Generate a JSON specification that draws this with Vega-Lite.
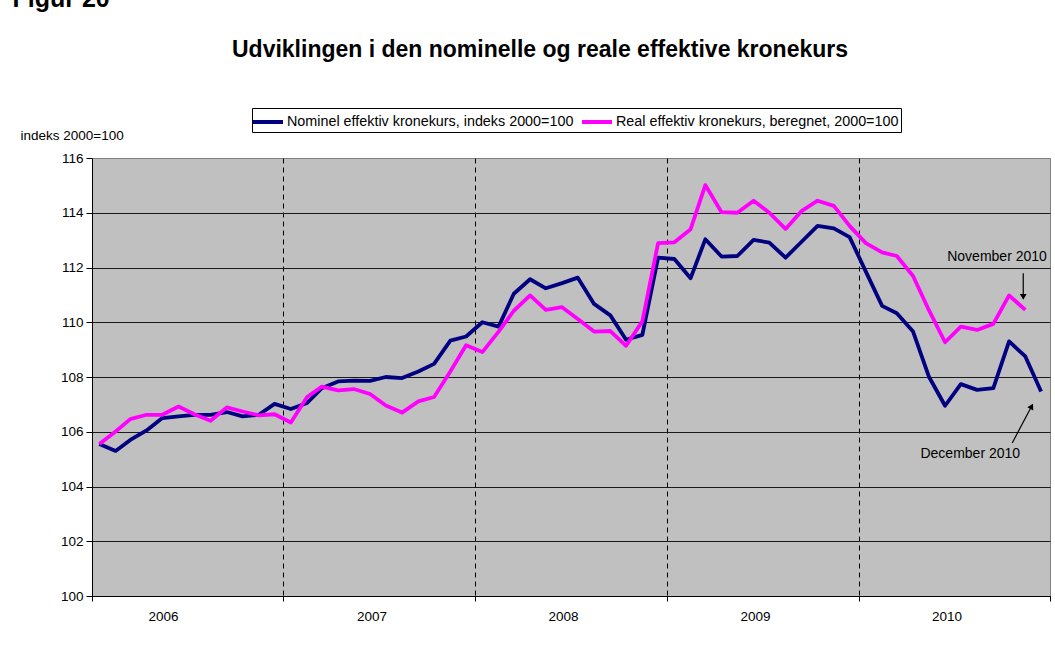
{
  "$schema": "https://vega.github.io/schema/vega-lite/v6.json",
  "width": 958,
  "height": 438,
  "autosize": "none",
  "padding": {"left": 92, "top": 158, "right": 5, "bottom": 52},
  "background": "white",
  "config": {
    "font": "Liberation Sans",
    "view": {"fill": "#C0C0C0", "stroke": "#808080", "strokeWidth": 1}
  },
  "title": {
    "text": "Udviklingen i den nominelle og reale effektive kronekurs",
    "font": "Liberation Sans",
    "fontSize": 23,
    "fontWeight": "bold",
    "color": "black",
    "anchor": "middle",
    "baseline": "alphabetic",
    "dx": -31,
    "offset": -94
  },
  "layer": [
    {
      "data": {"values": [
        {"date": "2006-01-15", "series": "Nominel effektiv kronekurs, indeks 2000=100", "value": 105.55},
        {"date": "2006-02-15", "series": "Nominel effektiv kronekurs, indeks 2000=100", "value": 105.30},
        {"date": "2006-03-15", "series": "Nominel effektiv kronekurs, indeks 2000=100", "value": 105.70},
        {"date": "2006-04-15", "series": "Nominel effektiv kronekurs, indeks 2000=100", "value": 106.05},
        {"date": "2006-05-15", "series": "Nominel effektiv kronekurs, indeks 2000=100", "value": 106.50},
        {"date": "2006-06-15", "series": "Nominel effektiv kronekurs, indeks 2000=100", "value": 106.56},
        {"date": "2006-07-15", "series": "Nominel effektiv kronekurs, indeks 2000=100", "value": 106.62},
        {"date": "2006-08-15", "series": "Nominel effektiv kronekurs, indeks 2000=100", "value": 106.62},
        {"date": "2006-09-15", "series": "Nominel effektiv kronekurs, indeks 2000=100", "value": 106.72},
        {"date": "2006-10-15", "series": "Nominel effektiv kronekurs, indeks 2000=100", "value": 106.56},
        {"date": "2006-11-15", "series": "Nominel effektiv kronekurs, indeks 2000=100", "value": 106.62},
        {"date": "2006-12-15", "series": "Nominel effektiv kronekurs, indeks 2000=100", "value": 107.02},
        {"date": "2007-01-15", "series": "Nominel effektiv kronekurs, indeks 2000=100", "value": 106.83},
        {"date": "2007-02-15", "series": "Nominel effektiv kronekurs, indeks 2000=100", "value": 107.05},
        {"date": "2007-03-15", "series": "Nominel effektiv kronekurs, indeks 2000=100", "value": 107.59},
        {"date": "2007-04-15", "series": "Nominel effektiv kronekurs, indeks 2000=100", "value": 107.84},
        {"date": "2007-05-15", "series": "Nominel effektiv kronekurs, indeks 2000=100", "value": 107.87},
        {"date": "2007-06-15", "series": "Nominel effektiv kronekurs, indeks 2000=100", "value": 107.86},
        {"date": "2007-07-15", "series": "Nominel effektiv kronekurs, indeks 2000=100", "value": 108.00},
        {"date": "2007-08-15", "series": "Nominel effektiv kronekurs, indeks 2000=100", "value": 107.96},
        {"date": "2007-09-15", "series": "Nominel effektiv kronekurs, indeks 2000=100", "value": 108.20},
        {"date": "2007-10-15", "series": "Nominel effektiv kronekurs, indeks 2000=100", "value": 108.48},
        {"date": "2007-11-15", "series": "Nominel effektiv kronekurs, indeks 2000=100", "value": 109.33},
        {"date": "2007-12-15", "series": "Nominel effektiv kronekurs, indeks 2000=100", "value": 109.48},
        {"date": "2008-01-15", "series": "Nominel effektiv kronekurs, indeks 2000=100", "value": 110.00},
        {"date": "2008-02-15", "series": "Nominel effektiv kronekurs, indeks 2000=100", "value": 109.84},
        {"date": "2008-03-15", "series": "Nominel effektiv kronekurs, indeks 2000=100", "value": 111.04},
        {"date": "2008-04-15", "series": "Nominel effektiv kronekurs, indeks 2000=100", "value": 111.57},
        {"date": "2008-05-15", "series": "Nominel effektiv kronekurs, indeks 2000=100", "value": 111.24},
        {"date": "2008-06-15", "series": "Nominel effektiv kronekurs, indeks 2000=100", "value": 111.43},
        {"date": "2008-07-15", "series": "Nominel effektiv kronekurs, indeks 2000=100", "value": 111.63},
        {"date": "2008-08-15", "series": "Nominel effektiv kronekurs, indeks 2000=100", "value": 110.67},
        {"date": "2008-09-15", "series": "Nominel effektiv kronekurs, indeks 2000=100", "value": 110.25},
        {"date": "2008-10-15", "series": "Nominel effektiv kronekurs, indeks 2000=100", "value": 109.36},
        {"date": "2008-11-15", "series": "Nominel effektiv kronekurs, indeks 2000=100", "value": 109.54},
        {"date": "2008-12-15", "series": "Nominel effektiv kronekurs, indeks 2000=100", "value": 112.36},
        {"date": "2009-01-15", "series": "Nominel effektiv kronekurs, indeks 2000=100", "value": 112.31},
        {"date": "2009-02-15", "series": "Nominel effektiv kronekurs, indeks 2000=100", "value": 111.61},
        {"date": "2009-03-15", "series": "Nominel effektiv kronekurs, indeks 2000=100", "value": 113.03},
        {"date": "2009-04-15", "series": "Nominel effektiv kronekurs, indeks 2000=100", "value": 112.40},
        {"date": "2009-05-15", "series": "Nominel effektiv kronekurs, indeks 2000=100", "value": 112.42},
        {"date": "2009-06-15", "series": "Nominel effektiv kronekurs, indeks 2000=100", "value": 113.01},
        {"date": "2009-07-15", "series": "Nominel effektiv kronekurs, indeks 2000=100", "value": 112.91},
        {"date": "2009-08-15", "series": "Nominel effektiv kronekurs, indeks 2000=100", "value": 112.36},
        {"date": "2009-09-15", "series": "Nominel effektiv kronekurs, indeks 2000=100", "value": 112.95},
        {"date": "2009-10-15", "series": "Nominel effektiv kronekurs, indeks 2000=100", "value": 113.52},
        {"date": "2009-11-15", "series": "Nominel effektiv kronekurs, indeks 2000=100", "value": 113.43},
        {"date": "2009-12-15", "series": "Nominel effektiv kronekurs, indeks 2000=100", "value": 113.11},
        {"date": "2010-01-15", "series": "Nominel effektiv kronekurs, indeks 2000=100", "value": 111.85},
        {"date": "2010-02-15", "series": "Nominel effektiv kronekurs, indeks 2000=100", "value": 110.60},
        {"date": "2010-03-15", "series": "Nominel effektiv kronekurs, indeks 2000=100", "value": 110.33},
        {"date": "2010-04-15", "series": "Nominel effektiv kronekurs, indeks 2000=100", "value": 109.66},
        {"date": "2010-05-15", "series": "Nominel effektiv kronekurs, indeks 2000=100", "value": 108.02},
        {"date": "2010-06-15", "series": "Nominel effektiv kronekurs, indeks 2000=100", "value": 106.95},
        {"date": "2010-07-15", "series": "Nominel effektiv kronekurs, indeks 2000=100", "value": 107.74},
        {"date": "2010-08-15", "series": "Nominel effektiv kronekurs, indeks 2000=100", "value": 107.53},
        {"date": "2010-09-15", "series": "Nominel effektiv kronekurs, indeks 2000=100", "value": 107.59},
        {"date": "2010-10-15", "series": "Nominel effektiv kronekurs, indeks 2000=100", "value": 109.30},
        {"date": "2010-11-15", "series": "Nominel effektiv kronekurs, indeks 2000=100", "value": 108.75},
        {"date": "2010-12-15", "series": "Nominel effektiv kronekurs, indeks 2000=100", "value": 107.47},
        {"date": "2006-01-15", "series": "Real effektiv kronekurs, beregnet, 2000=100", "value": 105.55},
        {"date": "2006-02-15", "series": "Real effektiv kronekurs, beregnet, 2000=100", "value": 106.01},
        {"date": "2006-03-15", "series": "Real effektiv kronekurs, beregnet, 2000=100", "value": 106.46},
        {"date": "2006-04-15", "series": "Real effektiv kronekurs, beregnet, 2000=100", "value": 106.62},
        {"date": "2006-05-15", "series": "Real effektiv kronekurs, beregnet, 2000=100", "value": 106.62},
        {"date": "2006-06-15", "series": "Real effektiv kronekurs, beregnet, 2000=100", "value": 106.92},
        {"date": "2006-07-15", "series": "Real effektiv kronekurs, beregnet, 2000=100", "value": 106.64},
        {"date": "2006-08-15", "series": "Real effektiv kronekurs, beregnet, 2000=100", "value": 106.40},
        {"date": "2006-09-15", "series": "Real effektiv kronekurs, beregnet, 2000=100", "value": 106.89},
        {"date": "2006-10-15", "series": "Real effektiv kronekurs, beregnet, 2000=100", "value": 106.74},
        {"date": "2006-11-15", "series": "Real effektiv kronekurs, beregnet, 2000=100", "value": 106.60},
        {"date": "2006-12-15", "series": "Real effektiv kronekurs, beregnet, 2000=100", "value": 106.64},
        {"date": "2007-01-15", "series": "Real effektiv kronekurs, beregnet, 2000=100", "value": 106.34},
        {"date": "2007-02-15", "series": "Real effektiv kronekurs, beregnet, 2000=100", "value": 107.27},
        {"date": "2007-03-15", "series": "Real effektiv kronekurs, beregnet, 2000=100", "value": 107.65},
        {"date": "2007-04-15", "series": "Real effektiv kronekurs, beregnet, 2000=100", "value": 107.51},
        {"date": "2007-05-15", "series": "Real effektiv kronekurs, beregnet, 2000=100", "value": 107.56},
        {"date": "2007-06-15", "series": "Real effektiv kronekurs, beregnet, 2000=100", "value": 107.38},
        {"date": "2007-07-15", "series": "Real effektiv kronekurs, beregnet, 2000=100", "value": 106.96},
        {"date": "2007-08-15", "series": "Real effektiv kronekurs, beregnet, 2000=100", "value": 106.70},
        {"date": "2007-09-15", "series": "Real effektiv kronekurs, beregnet, 2000=100", "value": 107.11},
        {"date": "2007-10-15", "series": "Real effektiv kronekurs, beregnet, 2000=100", "value": 107.27},
        {"date": "2007-11-15", "series": "Real effektiv kronekurs, beregnet, 2000=100", "value": 108.20},
        {"date": "2007-12-15", "series": "Real effektiv kronekurs, beregnet, 2000=100", "value": 109.16},
        {"date": "2008-01-15", "series": "Real effektiv kronekurs, beregnet, 2000=100", "value": 108.91},
        {"date": "2008-02-15", "series": "Real effektiv kronekurs, beregnet, 2000=100", "value": 109.66},
        {"date": "2008-03-15", "series": "Real effektiv kronekurs, beregnet, 2000=100", "value": 110.42},
        {"date": "2008-04-15", "series": "Real effektiv kronekurs, beregnet, 2000=100", "value": 110.98},
        {"date": "2008-05-15", "series": "Real effektiv kronekurs, beregnet, 2000=100", "value": 110.45},
        {"date": "2008-06-15", "series": "Real effektiv kronekurs, beregnet, 2000=100", "value": 110.55},
        {"date": "2008-07-15", "series": "Real effektiv kronekurs, beregnet, 2000=100", "value": 110.12},
        {"date": "2008-08-15", "series": "Real effektiv kronekurs, beregnet, 2000=100", "value": 109.66},
        {"date": "2008-09-15", "series": "Real effektiv kronekurs, beregnet, 2000=100", "value": 109.68},
        {"date": "2008-10-15", "series": "Real effektiv kronekurs, beregnet, 2000=100", "value": 109.14},
        {"date": "2008-11-15", "series": "Real effektiv kronekurs, beregnet, 2000=100", "value": 110.03},
        {"date": "2008-12-15", "series": "Real effektiv kronekurs, beregnet, 2000=100", "value": 112.89},
        {"date": "2009-01-15", "series": "Real effektiv kronekurs, beregnet, 2000=100", "value": 112.92},
        {"date": "2009-02-15", "series": "Real effektiv kronekurs, beregnet, 2000=100", "value": 113.40},
        {"date": "2009-03-15", "series": "Real effektiv kronekurs, beregnet, 2000=100", "value": 115.01},
        {"date": "2009-04-15", "series": "Real effektiv kronekurs, beregnet, 2000=100", "value": 114.02},
        {"date": "2009-05-15", "series": "Real effektiv kronekurs, beregnet, 2000=100", "value": 114.00},
        {"date": "2009-06-15", "series": "Real effektiv kronekurs, beregnet, 2000=100", "value": 114.44},
        {"date": "2009-07-15", "series": "Real effektiv kronekurs, beregnet, 2000=100", "value": 114.00},
        {"date": "2009-08-15", "series": "Real effektiv kronekurs, beregnet, 2000=100", "value": 113.41},
        {"date": "2009-09-15", "series": "Real effektiv kronekurs, beregnet, 2000=100", "value": 114.07},
        {"date": "2009-10-15", "series": "Real effektiv kronekurs, beregnet, 2000=100", "value": 114.44},
        {"date": "2009-11-15", "series": "Real effektiv kronekurs, beregnet, 2000=100", "value": 114.25},
        {"date": "2009-12-15", "series": "Real effektiv kronekurs, beregnet, 2000=100", "value": 113.52},
        {"date": "2010-01-15", "series": "Real effektiv kronekurs, beregnet, 2000=100", "value": 112.89},
        {"date": "2010-02-15", "series": "Real effektiv kronekurs, beregnet, 2000=100", "value": 112.55},
        {"date": "2010-03-15", "series": "Real effektiv kronekurs, beregnet, 2000=100", "value": 112.42},
        {"date": "2010-04-15", "series": "Real effektiv kronekurs, beregnet, 2000=100", "value": 111.69},
        {"date": "2010-05-15", "series": "Real effektiv kronekurs, beregnet, 2000=100", "value": 110.45},
        {"date": "2010-06-15", "series": "Real effektiv kronekurs, beregnet, 2000=100", "value": 109.27},
        {"date": "2010-07-15", "series": "Real effektiv kronekurs, beregnet, 2000=100", "value": 109.84},
        {"date": "2010-08-15", "series": "Real effektiv kronekurs, beregnet, 2000=100", "value": 109.72},
        {"date": "2010-09-15", "series": "Real effektiv kronekurs, beregnet, 2000=100", "value": 109.94},
        {"date": "2010-10-15", "series": "Real effektiv kronekurs, beregnet, 2000=100", "value": 110.98},
        {"date": "2010-11-15", "series": "Real effektiv kronekurs, beregnet, 2000=100", "value": 110.45}
      ]},
      "mark": {"type": "line", "strokeWidth": 3.8, "strokeJoin": "round"},
      "encoding": {
        "x": {
          "field": "date",
          "type": "temporal",
          "scale": {"type": "utc", "domain": [1136073600000, 1293840000000], "nice": false},
          "axis": {
            "values": [1136073600000, 1167609600000, 1199145600000, 1230768000000, 1262304000000, 1293840000000],
            "labelExpr": "utcyear(datum.value) < 2011 ? '' + utcyear(datum.value) : ''",
            "labelOffset": {"condition": {"test": "utcyear(datum.value) == 2006", "value": 71}, "value": 88},
            "labelAlign": "center",
            "labelFlush": false,
            "labelOverlap": false,
            "labelBound": false,
            "labelFont": "Liberation Sans",
            "labelFontSize": 13.5,
            "labelColor": "black",
            "labelPadding": 8,
            "tickSize": 5,
            "tickColor": "black",
            "domainColor": "black",
            "grid": true,
            "gridColor": "black",
            "gridDash": [5, 4],
            "gridOpacity": {"condition": {"test": "utcyear(datum.value) == 2006 || utcyear(datum.value) == 2011", "value": 0}, "value": 1},
            "title": "Figur 20",
            "titleX": -80,
            "titleY": -590,
            "titleAlign": "left",
            "titleAnchor": "start",
            "titleBaseline": "alphabetic",
            "titleFont": "Liberation Sans",
            "titleFontSize": 25,
            "titleFontWeight": "bold",
            "titleColor": "black"
          }
        },
        "y": {
          "field": "value",
          "type": "quantitative",
          "scale": {"domain": [100, 116], "nice": false, "zero": false},
          "axis": {
            "values": [100, 102, 104, 106, 108, 110, 112, 114, 116],
            "labelFont": "Liberation Sans",
            "labelFontSize": 13.5,
            "labelColor": "black",
            "labelPadding": 3,
            "tickSize": 6,
            "tickColor": "black",
            "domainColor": "black",
            "grid": true,
            "gridColor": "#1a1a1a",
            "gridOpacity": {"condition": {"test": "datum.value == 116", "value": 0}, "value": 1},
            "title": "indeks 2000=100",
            "titleAngle": 0,
            "titleX": -72,
            "titleY": -19,
            "titleAlign": "left",
            "titleBaseline": "alphabetic",
            "titleFont": "Liberation Sans",
            "titleFontSize": 13.5,
            "titleFontWeight": "normal",
            "titleColor": "black"
          }
        },
        "color": {
          "field": "series",
          "type": "nominal",
          "scale": {
            "domain": ["Nominel effektiv kronekurs, indeks 2000=100", "Real effektiv kronekurs, beregnet, 2000=100"],
            "range": ["#000080", "#FF00FF"]
          },
          "legend": {
            "orient": "none",
            "legendX": 160,
            "legendY": -50,
            "direction": "horizontal",
            "title": null,
            "symbolType": "M-1.5,0H1.5",
            "symbolSize": 400,
            "symbolOffset": 2,
            "symbolStrokeWidth": 4,
            "labelFont": "Liberation Sans",
            "labelFontSize": 14.35,
            "labelColor": "black",
            "labelOffset": 7,
            "labelLimit": 400,
            "columnPadding": 0,
            "padding": 2,
            "strokeColor": "black",
            "fillColor": "white"
          }
        }
      }
    },
    {
      "data": {"values": [
        {"date": "2010-12-26", "value": 112.24, "label": "November 2010"},
        {"date": "2010-11-05", "value": 105.04, "label": "December 2010"}
      ]},
      "mark": {"type": "text", "align": "right", "baseline": "alphabetic", "font": "Liberation Sans", "fontSize": 14, "color": "black"},
      "encoding": {
        "x": {"field": "date", "type": "temporal"},
        "y": {"field": "value", "type": "quantitative"},
        "text": {"field": "label"}
      }
    },
    {
      "data": {"values": [
        {"date": "2010-11-11", "value": 111.79, "date2": "2010-11-11", "value2": 110.95},
        {"date": "2010-10-21", "value": 105.59, "date2": "2010-11-27", "value2": 106.93}
      ]},
      "mark": {"type": "rule", "color": "black", "strokeWidth": 1.2},
      "encoding": {
        "x": {"field": "date", "type": "temporal"},
        "y": {"field": "value", "type": "quantitative"},
        "x2": {"field": "date2"},
        "y2": {"field": "value2"}
      }
    },
    {
      "data": {"values": [{"date": "2010-11-11", "value": 110.93}]},
      "mark": {"type": "point", "shape": "triangle-down", "filled": true, "color": "black", "opacity": 1, "size": 45},
      "encoding": {
        "x": {"field": "date", "type": "temporal"},
        "y": {"field": "value", "type": "quantitative"}
      }
    },
    {
      "data": {"values": [{"date": "2010-11-27", "value": 106.93}]},
      "mark": {"type": "point", "shape": "triangle-up", "angle": 28, "filled": true, "color": "black", "opacity": 1, "size": 45},
      "encoding": {
        "x": {"field": "date", "type": "temporal"},
        "y": {"field": "value", "type": "quantitative"}
      }
    }
  ]
}
